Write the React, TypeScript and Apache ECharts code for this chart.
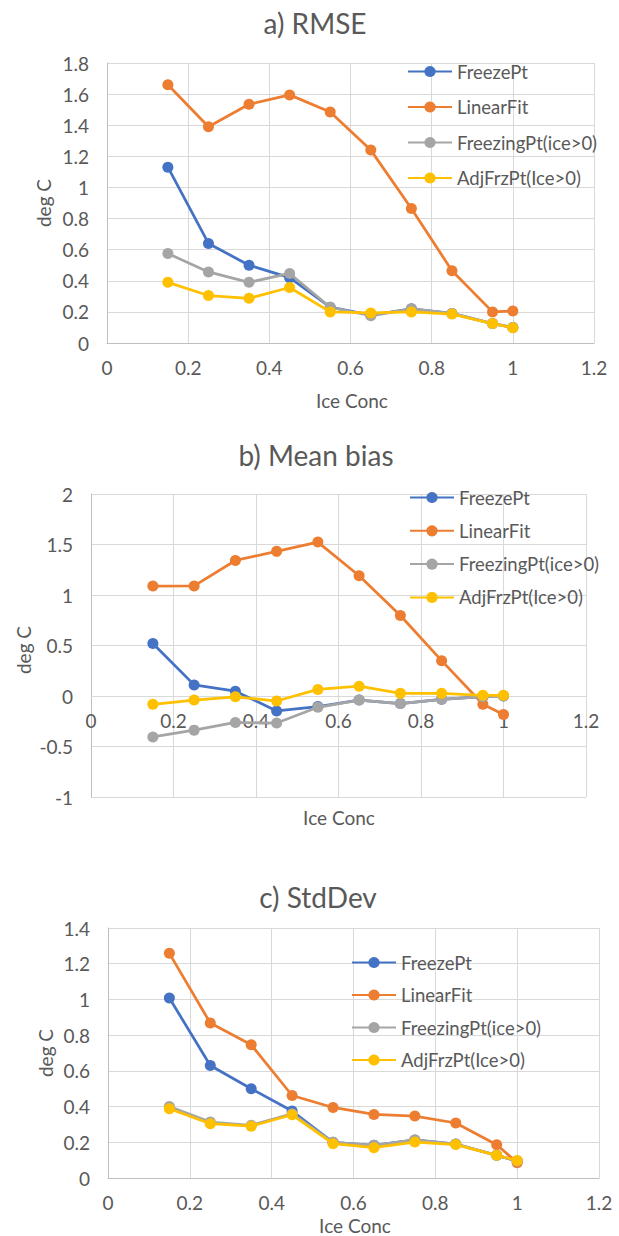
import React, { useEffect, useRef } from "react";
import * as echarts from "echarts";

const iceConc = [0.15, 0.25, 0.35, 0.45, 0.55, 0.65, 0.75, 0.85, 0.95, 1.0];
const seriesNames = ["FreezePt", "LinearFit", "FreezingPt(ice>0)", "AdjFrzPt(Ice>0)"];
const colors = ["#4472C4", "#ED7D31", "#A5A5A5", "#FFC000"];

// a) RMSE
const rmseFreezePt = [1.13, 0.64, 0.5, 0.42, 0.23, 0.18, 0.22, 0.19, 0.125, 0.1];
const rmseLinearFit = [1.66, 1.39, 1.535, 1.595, 1.485, 1.24, 0.865, 0.465, 0.2, 0.205];
const rmseFreezingPt = [0.575, 0.457, 0.39, 0.447, 0.23, 0.175, 0.22, 0.19, 0.125, 0.1];
const rmseAdjFrzPt = [0.39, 0.305, 0.287, 0.357, 0.2, 0.193, 0.2, 0.186, 0.125, 0.098];

// b) Mean bias
const biasFreezePt = [0.52, 0.11, 0.048, -0.148, -0.105, -0.04, -0.075, -0.033, -0.007, 0.0];
const biasLinearFit = [1.088, 1.09, 1.342, 1.432, 1.524, 1.19, 0.797, 0.35, -0.082, -0.184];
const biasFreezingPt = [-0.405, -0.338, -0.262, -0.268, -0.112, -0.04, -0.075, -0.033, -0.007, 0.0];
const biasAdjFrzPt = [-0.082, -0.04, -0.008, -0.05, 0.065, 0.097, 0.026, 0.026, 0.007, 0.007];

// c) StdDev
const stdFreezePt = [1.008, 0.63, 0.5, 0.375, 0.2, 0.183, 0.213, 0.19, 0.127, 0.095];
const stdLinearFit = [1.258, 0.868, 0.746, 0.462, 0.395, 0.356, 0.347, 0.308, 0.186, 0.086];
const stdFreezingPt = [0.4, 0.313, 0.295, 0.36, 0.2, 0.183, 0.213, 0.19, 0.127, 0.095];
const stdAdjFrzPt = [0.388, 0.304, 0.29, 0.354, 0.192, 0.17, 0.201, 0.187, 0.127, 0.098];

const titles = ["a) RMSE", "b) Mean bias", "c) StdDev"];
const yMins = [0, -1, 0];
const yMaxs = [1.8, 2, 1.4];
const yIntervals = [0.2, 0.5, 0.2];

const FONT = "Lato, 'Noto Sans', sans-serif";
const TEXT = "#595959";
const GRIDC = "#D9D9D9";
const LBL = 19;
const LEG = 18.5;

export default function App() {
  const ref = useRef<HTMLDivElement>(null);
  useEffect(() => {
    if (!ref.current) return;
    const chart = echarts.init(ref.current, undefined, { renderer: "svg" });
    const chartData = [
      [rmseFreezePt, rmseLinearFit, rmseFreezingPt, rmseAdjFrzPt],
      [biasFreezePt, biasLinearFit, biasFreezingPt, biasAdjFrzPt],
      [stdFreezePt, stdLinearFit, stdFreezingPt, stdAdjFrzPt],
    ];
    const grids = [
      { left: 107, width: 487, top: 63, height: 280 },
      { left: 91, width: 495, top: 494, height: 303 },
      { left: 108, width: 491, top: 928, height: 250 },
    ];
    const legendPos = [
      { left: 407, top: 62, itemGap: 16.5 },
      { left: 409, top: 488, itemGap: 14.3 },
      { left: 351, top: 953, itemGap: 13.5 },
    ];
    const titlePos = [
      [315, 23],
      [316, 455],
      [318, 897],
    ];
    const xNamePos = [
      [352, 400],
      [339, 817],
      [355, 1225],
    ];
    const yNamePos = [
      [43, 203],
      [23, 650],
      [45, 1053],
    ];

    const series: any[] = [];
    chartData.forEach((arrs, ci) => {
      arrs.forEach((vals, si) => {
        series.push({
          type: "line",
          name: seriesNames[si],
          xAxisIndex: ci,
          yAxisIndex: ci,
          data: iceConc.map((x, i) => [x, vals[i]]),
          symbol: "circle",
          symbolSize: 11,
          lineStyle: { width: 2.75, color: colors[si] },
          itemStyle: { color: colors[si] },
          z: 2 + si,
        });
      });
    });

    const graphic: any[] = [];
    titles.forEach((t, i) => {
      graphic.push({
        type: "text",
        x: titlePos[i][0],
        y: titlePos[i][1],
        style: {
          text: t,
          fontFamily: FONT,
          fontSize: 28,
          fill: TEXT,
          align: "center",
          verticalAlign: "middle",
        },
      });
      graphic.push({
        type: "text",
        x: xNamePos[i][0],
        y: xNamePos[i][1],
        style: {
          text: "Ice Conc",
          fontFamily: FONT,
          fontSize: LBL,
          fill: TEXT,
          align: "center",
          verticalAlign: "middle",
        },
      });
      graphic.push({
        type: "text",
        x: yNamePos[i][0],
        y: yNamePos[i][1],
        rotation: Math.PI / 2,
        style: {
          text: "deg C",
          fontFamily: FONT,
          fontSize: LBL,
          fill: TEXT,
          align: "center",
          verticalAlign: "middle",
        },
      });
    });

    // x axis crosses the y axis at 0: shift it up from the grid bottom accordingly
    const xOffsets = grids.map((g, i) => -((0 - yMins[i]) / (yMaxs[i] - yMins[i])) * g.height);

    chart.setOption({
      animation: false,
      backgroundColor: "#ffffff",
      grid: grids.map((g) => ({ ...g, containLabel: false })),
      xAxis: grids.map((_, i) => ({
        type: "value",
        gridIndex: i,
        min: 0,
        max: 1.2,
        interval: 0.2,
        offset: xOffsets[i],
        axisLine: { show: true, onZero: false, lineStyle: { color: i === 1 ? GRIDC : "#BFBFBF", width: 1 } },
        axisTick: { show: false },
        axisLabel: { color: TEXT, fontFamily: FONT, fontSize: LBL, margin: 15, showMaxLabel: true, showMinLabel: true },
        splitLine: { show: true, lineStyle: { color: GRIDC, width: 1 } },
      })),
      yAxis: grids.map((_, i) => ({
        type: "value",
        gridIndex: i,
        min: yMins[i],
        max: yMaxs[i],
        interval: yIntervals[i],
        axisLine: { show: true, onZero: false, lineStyle: { color: "#BFBFBF", width: 1 } },
        axisTick: { show: false },
        axisLabel: { color: TEXT, fontFamily: FONT, fontSize: LBL, margin: 18 },
        splitLine: { show: true, lineStyle: { color: GRIDC, width: 1 } },
      })),
      legend: legendPos.map((p) => ({
        orient: "vertical",
        left: p.left,
        top: p.top,
        itemGap: p.itemGap,
        itemWidth: 44,
        itemHeight: 14,
        padding: 0,
        data: seriesNames,
        textStyle: { color: TEXT, fontFamily: FONT, fontSize: LEG, lineHeight: 18.5 },
      })),
      series,
      graphic,
    });
    return () => chart.dispose();
  }, []);
  return (
    <div
      ref={ref}
      style={{ position: "fixed", left: 0, top: 0, width: 619, height: 1236, background: "#fff" }}
    />
  );
}
